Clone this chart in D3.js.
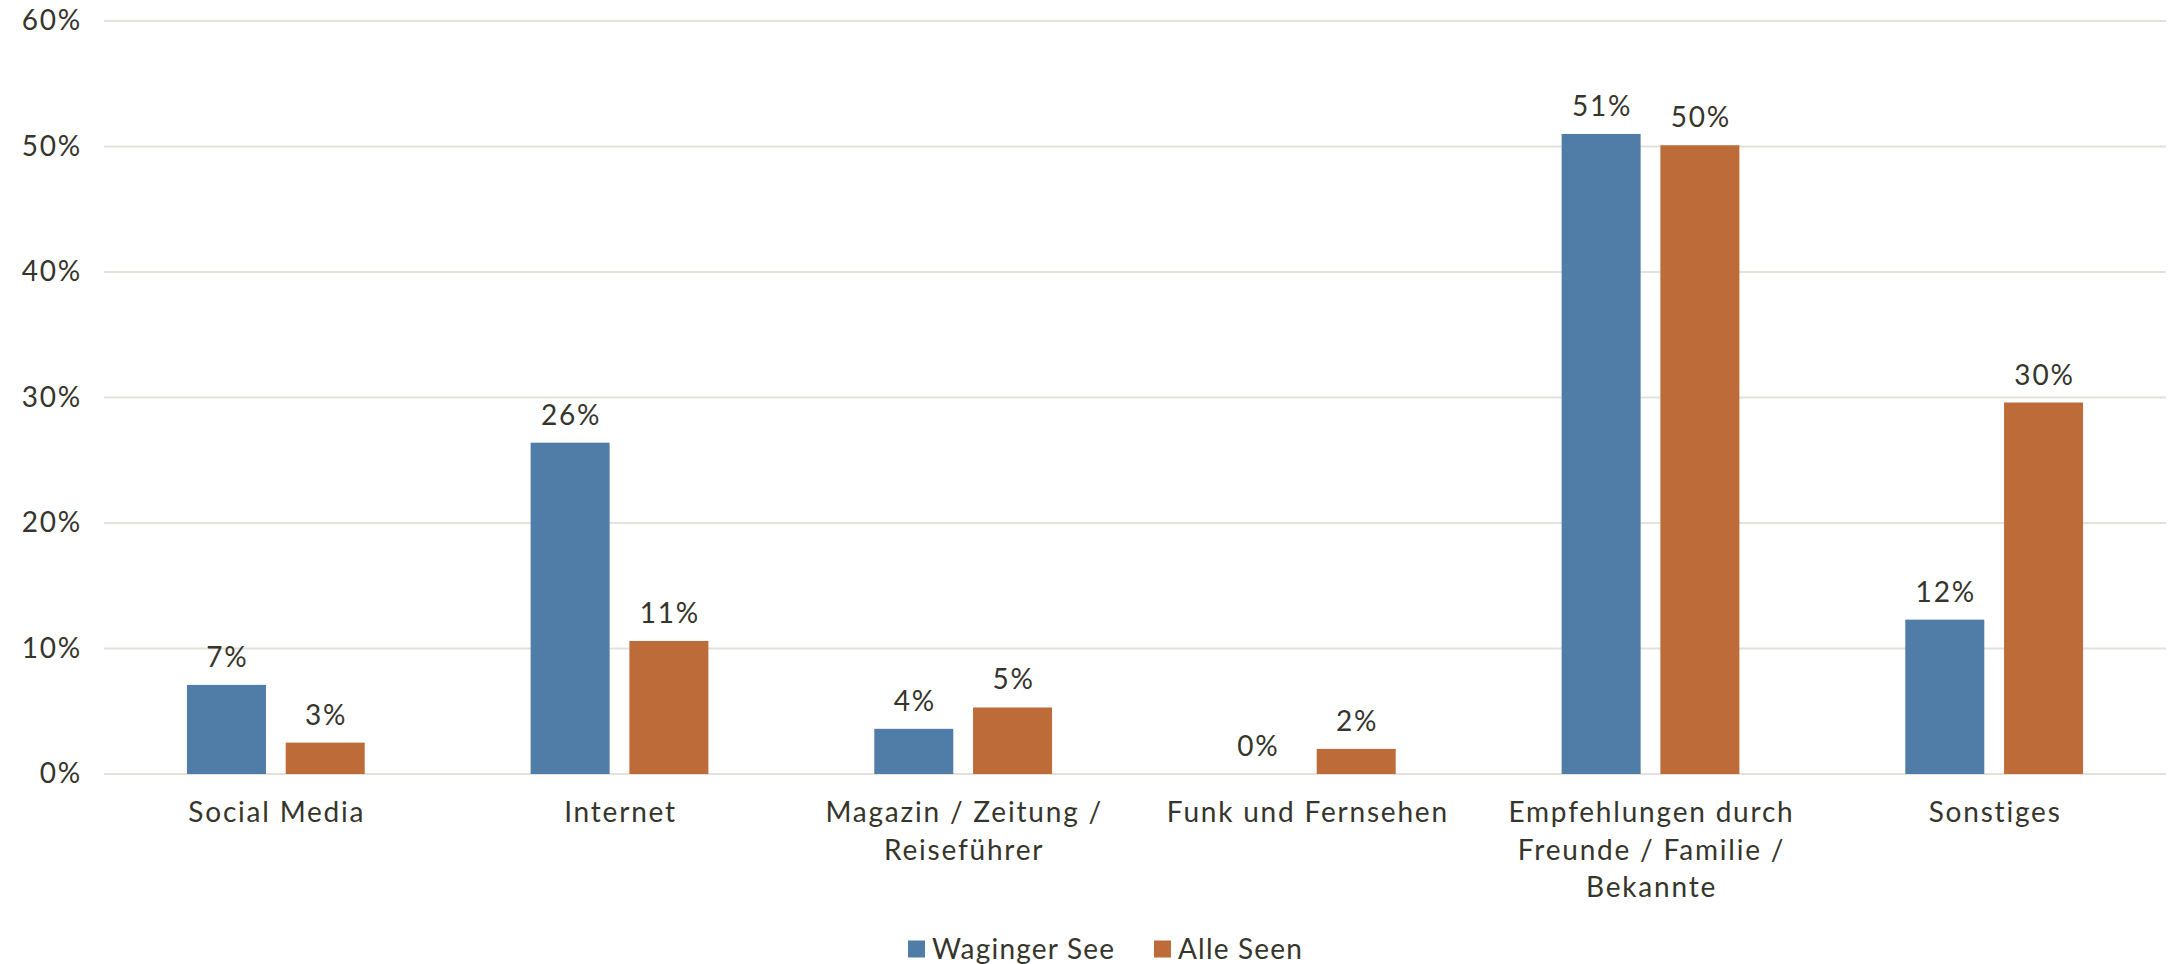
<!DOCTYPE html>
<meta charset="utf-8">
<head>
  <style>
    body { margin: 0; background: #fff; }
    #chart text { font-family: Lato, "Open Sans", sans-serif; fill: #36352c; letter-spacing: 1.8px; }
  </style>
</head>
<body>
<div id="chart"></div>
<script src="https://d3js.org/d3.v7.min.js"></script>
<script>

// data
var categories = ["Social Media", "Internet", "Magazin / Zeitung / Reiseführer",
                  "Funk und Fernsehen", "Empfehlungen durch Freunde / Familie / Bekannte", "Sonstiges"];
var categoryLines = [
  ["Social Media"],
  ["Internet"],
  ["Magazin / Zeitung /", "Reiseführer"],
  ["Funk und Fernsehen"],
  ["Empfehlungen durch", "Freunde / Familie /", "Bekannte"],
  ["Sonstiges"]
];
var seriesNames = ["Waginger See", "Alle Seen"];
var waginger = [7.1, 26.4, 3.6, 0, 51.0, 12.3];
var alleSeen = [2.5, 10.6, 5.3, 2.0, 50.1, 29.6];
var yTicks = [0, 10, 20, 30, 40, 50, 60];
var colors = ["#4f7da8", "#be6b3a"];

var W = 2172, H = 964;
var margin = {top: 21, right: 6, bottom: 190, left: 104},
    width = W - margin.left - margin.right,
    height = H - margin.top - margin.bottom;

var svg = d3.select("#chart")
  .append("svg")
    .attr("width", W)
    .attr("height", H)
  .append("g")
    .attr("transform", "translate(" + margin.left + "," + margin.top + ")");

var x0 = d3.scaleBand()
  .domain(categories)
  .range([0, width]);

var x1 = d3.scaleBand()
  .domain(seriesNames)
  .range([0, x0.bandwidth()])
  .paddingInner(0.2)
  .paddingOuter(0.84);

var y = d3.scaleLinear()
  .domain([0, 60])
  .range([height, 0]);

// gridlines
svg.append("g")
  .selectAll("line")
  .data(yTicks)
  .enter()
  .append("line")
    .attr("x1", 0)
    .attr("x2", width)
    .attr("y1", function(d) { return y(d); })
    .attr("y2", function(d) { return y(d); })
    .attr("stroke", "#e4e1d9")
    .attr("stroke-width", 2);

// y axis labels
var yAxis = svg.append("g")
  .call(d3.axisLeft(y).tickValues(yTicks).tickSize(0).tickPadding(22)
    .tickFormat(function(d) { return d + "%"; }));
yAxis.select(".domain").remove();
yAxis.selectAll("text")
  .style("font-size", "28px");

// bars
var rows = categories.map(function(c, i) {
  return [{cat: c, name: seriesNames[0], v: waginger[i]},
          {cat: c, name: seriesNames[1], v: alleSeen[i]}];
});

var groups = svg.selectAll(".grp")
  .data(rows)
  .enter()
  .append("g")
    .attr("class", "grp")
    .attr("transform", function(d) { return "translate(" + x0(d[0].cat) + ",0)"; });

groups.selectAll("rect")
  .data(function(d) { return d; })
  .enter()
  .append("rect")
    .attr("x", function(d) { return x1(d.name); })
    .attr("width", x1.bandwidth())
    .attr("y", function(d) { return y(d.v); })
    .attr("height", function(d) { return height - y(d.v); })
    .attr("fill", function(d, i) { return colors[i]; });

groups.selectAll(".val")
  .data(function(d) { return d; })
  .enter()
  .append("text")
    .attr("class", "val")
    .attr("x", function(d) { return x1(d.name) + x1.bandwidth() / 2 + 1; })
    .attr("y", function(d) { return y(d.v) - 18; })
    .attr("text-anchor", "middle")
    .style("font-size", "28px")
    .text(function(d) { return Math.round(d.v) + "%"; });

// category labels
var xl = svg.append("g")
  .selectAll("text")
  .data(categories)
  .enter()
  .append("text")
    .attr("text-anchor", "middle")
    .attr("x", function(d) { return x0(d) + x0.bandwidth() / 2 + 1; })
    .attr("y", height + 48)
    .style("font-size", "28px");

xl.selectAll("tspan")
  .data(function(d, i) { return categoryLines[i]; })
  .enter()
  .append("tspan")
    .attr("x", function() { return this.parentNode.getAttribute("x"); })
    .attr("dy", function(d, i) { return i === 0 ? 0 : 37.5; })
    .text(function(d) { return d; });

// legend
var legend = svg.append("g")
  .attr("transform", "translate(" + (908 - margin.left) + "," + (949 - margin.top) + ")");

var legX = [0, 246];
seriesNames.forEach(function(s, i) {
  legend.append("rect")
    .attr("x", legX[i])
    .attr("y", -8.5)
    .attr("width", 17)
    .attr("height", 17)
    .attr("fill", colors[i]);
  legend.append("text")
    .attr("x", legX[i] + 24)
    .attr("y", 0)
    .attr("dy", "0.35em")
    .style("font-size", "28px")
    .style("letter-spacing", "1.2px")
    .text(s);
});

</script>
</body>
